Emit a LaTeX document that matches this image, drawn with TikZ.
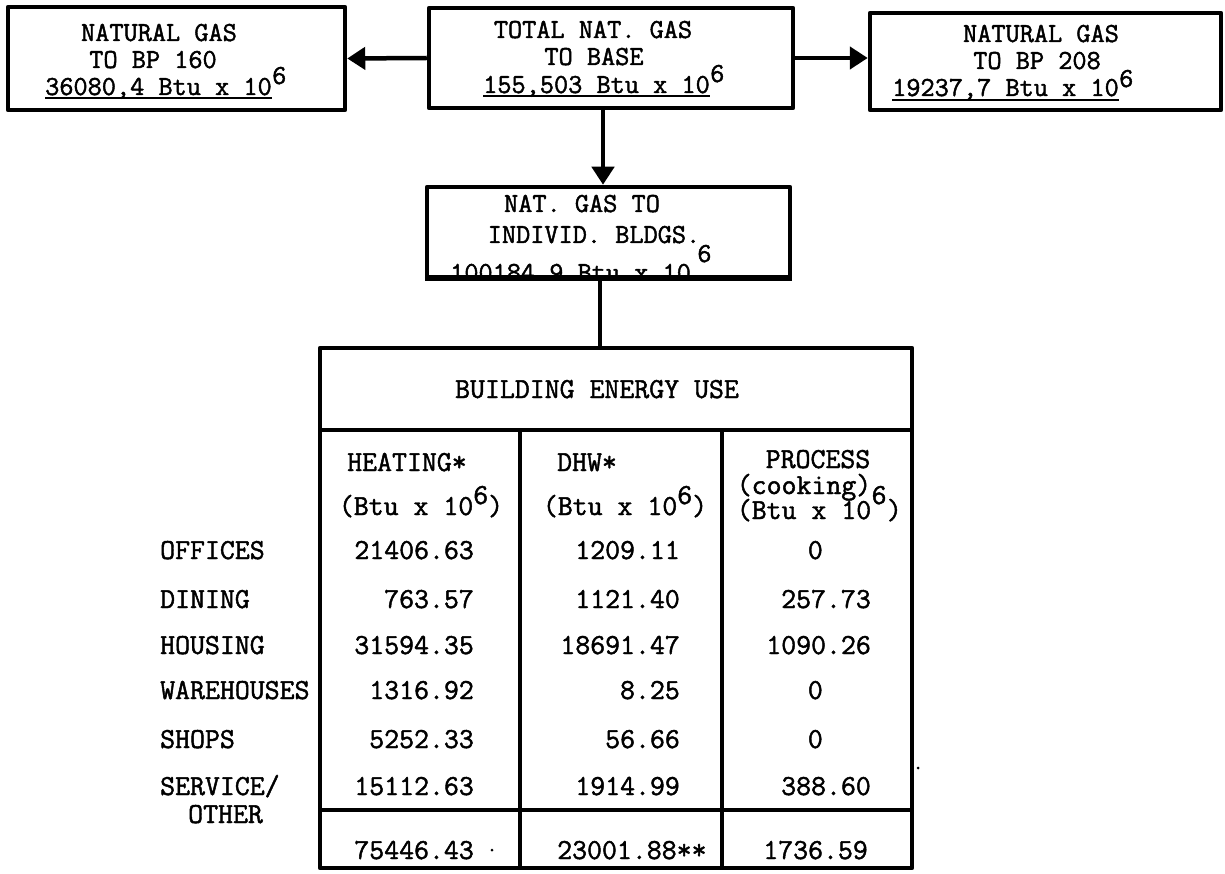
\documentclass[tikz,border=0pt]{standalone}
\usepackage{fontspec}
\newfontfamily\tw{Latin Modern Mono}[FakeBold=1.6]
\usetikzlibrary{arrows.meta}
\begin{document}
\begin{tikzpicture}[x=1pt,y=-1pt,
  txt/.style={font=\tw\fontsize{29}{32}\selectfont, inner sep=0pt, anchor=base},
  btxt/.style={font=\tw\fontsize{27.5}{30}\selectfont, inner sep=0pt, anchor=base},
  boxnode/.style={draw, line width=4.5pt, line join=round, inner sep=0pt},
  flow/.style={line width=4.5pt, -{Triangle[length=18pt,width=22pt]}},
  plainline/.style={line width=4pt},
  uline/.style={line width=2pt},
  speck/.style={fill=black, draw=none, circle, inner sep=0pt, minimum size=3pt}]
\useasboundingbox (0,0) rectangle (1225,874);

% ---------- boxes ----------
\node[boxnode, minimum width=337pt, minimum height=103pt] (bp160) at (176.5,58.5) {};
\node[boxnode, minimum width=364pt, minimum height=100pt] (tot) at (611,58) {};
\node[boxnode, minimum width=351pt, minimum height=97pt] (bp208) at (1045.5,61.5) {};
\node[boxnode, minimum width=363pt, minimum height=90pt] (ind) at (608.5,232) {};
\node[boxnode, minimum width=592pt, minimum height=520pt] (tab) at (616,608) {};

% ---------- connectors ----------
\draw[flow] (tot.west) -- (bp160.east);
\draw[flow] (tot.east) -- (tot.east -| bp208.west);
\draw[flow] ([xshift=-8pt]tot.south) -- ([xshift=-8pt]tot.south |- ind.north);
\draw[plainline] ([xshift=-8.5pt]ind.south) -- ([xshift=-8.5pt]ind.south |- tab.north);

% ---------- left box text ----------
\node[btxt] (l1) at (159,41) {NATURAL GAS};
\node[btxt] (l2) at (153,68) {TO BP 160};
\node[btxt, anchor=base west] (l3) at (45,95) {36080,4 Btu x 10};
\node[btxt, anchor=base west] (l3e) at ([yshift=11pt]l3.base east) {6};
\draw[uline] ([yshift=-3pt]l3.base west) -- ([yshift=-3pt]l3.base east);

% ---------- centre box text ----------
\node[btxt] (t1) at (593,38) {TOTAL NAT. GAS};
\node[btxt] (t2) at (594,65) {TO BASE};
\node[btxt, anchor=base west] (t3) at (483,93) {155,503 Btu x 10};
\node[btxt, anchor=base west] (t3e) at ([yshift=11pt]t3.base east) {6};
\draw[uline] ([yshift=-3pt]t3.base west) -- ([yshift=-3pt]t3.base east);

% ---------- right box text ----------
\node[btxt] (r1) at (1041,42) {NATURAL GAS};
\node[btxt] (r2) at (1037,69) {TO BP 208};
\node[btxt, anchor=base west] (r3) at (892,96) {19237,7 Btu x 10};
\node[btxt, anchor=base west] (r3e) at ([yshift=9pt]r3.base east) {6};
\draw[uline] ([yshift=-4pt]r3.base west) -- ([yshift=-4pt]r3.base east);

% ---------- middle box text ----------
\node[btxt] (m1) at (582,212) {NAT. GAS TO};
\node[btxt] (m2) at (594,243) {INDIVID. BLDGS.};
\node[btxt, anchor=base west] (m3) at (450,281) {100184.9 Btu x 10};
\node[btxt, anchor=base west] (m3e) at ([xshift=6pt,yshift=19pt]m3.base east) {6};
% bottom border drawn over the cut text
\fill[white] (ind.south west) rectangle ([yshift=-8pt]ind.south east);
\draw[line width=4.5pt] (ind.south west) -- (ind.south east);
\draw[plainline] ([xshift=-8.5pt]ind.south) -- ([xshift=-8.5pt,yshift=-10pt]ind.south);

% ---------- table rules ----------
\draw[plainline] (320,430) -- (912,430);
\draw[plainline] (320,810) -- (912,810);
\draw[plainline] (520,430) -- (520,868);
\draw[plainline] (722,430) -- (722,868);

% ---------- table header ----------
\node[txt] (title) at (597,398) {BUILDING ENERGY USE};
\node[txt] (c1a) at (407,471) {HEATING*};
\node[txt] (c1b) at (421,515) {(Btu x 10\raisebox{11pt}{6})};
\node[txt] (c2a) at (587,471) {DHW*};
\node[txt] (c2b) at (625,515) {(Btu x 10\raisebox{11pt}{6})};
\node[txt] (c3a) at (818,468) {PROCESS};
\node[txt] (c3b) at (804,494) {(cooking)};
\node[txt] (c3c) at (804,519) {(Btu x 10};
\node[txt, anchor=base west] (c3e) at ([yshift=15pt]c3c.base east) {6};
\node[txt, anchor=base west] (c3p) at (c3e.base east |- c3c.base) {)};

% ---------- row labels ----------
\node[txt, anchor=base west] (rw1) at (160,559) {OFFICES};
\node[txt, anchor=base west] (rw2) at (160,608) {DINING};
\node[txt, anchor=base west] (rw3) at (160,654) {HOUSING};
\node[txt, anchor=base west] (rw4) at (160,699) {WAREHOUSES};
\node[txt, anchor=base west] (rw5) at (160,748) {SHOPS};
\node[txt, anchor=base west] (rw6) at (160,795) {SERVICE/};
\node[txt, anchor=base west] (rw7) at (188,823) {OTHER};

% ---------- heating ----------
\node[txt, anchor=base east] (h1) at (474,559) {21406.63};
\node[txt, anchor=base east] (h2) at (474,608) {763.57};
\node[txt, anchor=base east] (h3) at (474,654) {31594.35};
\node[txt, anchor=base east] (h4) at (474,699) {1316.92};
\node[txt, anchor=base east] (h5) at (474,748) {5252.33};
\node[txt, anchor=base east] (h6) at (474,795) {15112.63};
\node[txt, anchor=base east] (ht) at (474,859) {75446.43};

% ---------- DHW ----------
\node[txt, anchor=base east] (d1) at (680,559) {1209.11};
\node[txt, anchor=base east] (d2) at (680,608) {1121.40};
\node[txt, anchor=base east] (d3) at (680,654) {18691.47};
\node[txt, anchor=base east] (d4) at (680,699) {8.25};
\node[txt, anchor=base east] (d5) at (680,748) {56.66};
\node[txt, anchor=base east] (d6) at (680,795) {1914.99};
\node[txt, anchor=base west] (dt) at (557,859) {23001.88**};

% ---------- process ----------
\node[txt, anchor=base east] (p1) at (823,559) {0};
\node[txt, anchor=base east] (p2) at (871,608) {257.73};
\node[txt, anchor=base east] (p3) at (871,654) {1090.26};
\node[txt, anchor=base east] (p4) at (823,699) {0};
\node[txt, anchor=base east] (p5) at (823,748) {0};
\node[txt, anchor=base east] (p6) at (871,795) {388.60};
\node[txt, anchor=base east] (pt) at (868,859) {1736.59};

% ---------- specks ----------
\node[speck] (s1) at (918,768) {};
\node[speck] (s2) at (492,850) {};
\end{tikzpicture}
\end{document}
